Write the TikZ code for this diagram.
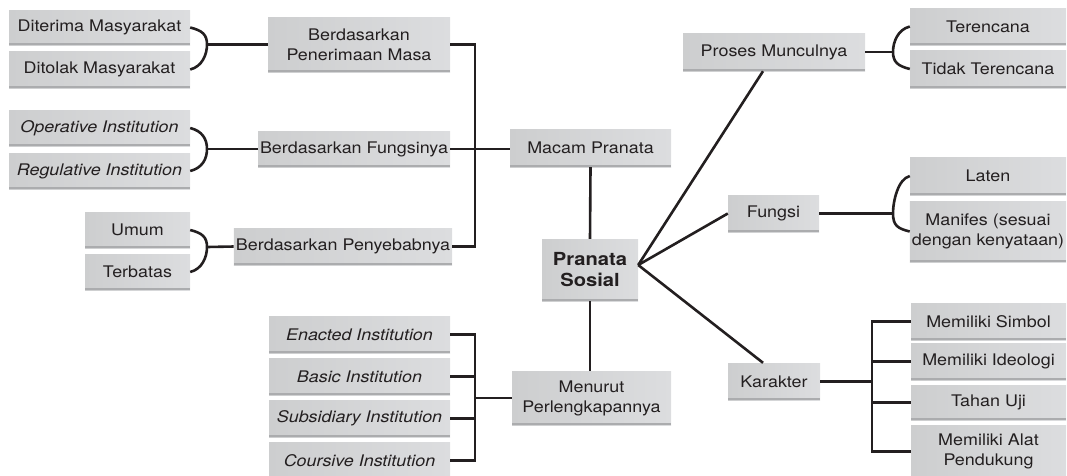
\documentclass[tikz,border=0pt]{standalone}
\usepackage{fontspec}
\setmainfont{TeX Gyre Heros}[FakeStretch=1.12]
\usetikzlibrary{calc}
\definecolor{boxgray}{HTML}{CDCECF}
\definecolor{lightedge}{HTML}{DCDDDF}
\definecolor{shadowgray}{HTML}{ABACAE}
\definecolor{ink}{HTML}{231F20}
\begin{document}
\begin{tikzpicture}[x=1pt,y=-1pt,
  box/.style={left color=boxgray, right color=lightedge, inner sep=2pt, align=center,
    text=ink, font=\fontsize{16}{20}\selectfont,
    path picture={\fill[shadowgray] ($(path picture bounding box.south west)+(0,-2.2)$) rectangle (path picture bounding box.south east);}},
  conn/.style={draw=ink, line width=2.6pt},
  it/.style={font=\fontsize{16}{20}\selectfont\itshape}]
\useasboundingbox (0,0) rectangle (1067,475);

% left column
\node[box, minimum width=181pt, minimum height=35pt] (dit) at (99.5,27.5) {Diterima Masyarakat};
\node[box, minimum width=181pt, minimum height=37pt] (dol) at (99.5,69.5) {Ditolak Masyarakat};
\node[box, minimum width=182pt, minimum height=55pt] (bpm) at (359,44.5) {Berdasarkan\\Penerimaan Masa};
\node[box, it, minimum width=181pt, minimum height=36pt] (ope) at (99.5,128) {Operative Institution};
\node[box, it, minimum width=181pt, minimum height=36pt] (reg) at (99.5,171) {Regulative Institution};
\node[box, minimum width=192pt, minimum height=36pt] (bfu) at (354,149) {Berdasarkan Fungsinya};
\node[box, minimum width=105pt, minimum height=36pt] (umu) at (137.5,230) {Umum};
\node[box, minimum width=105pt, minimum height=36pt] (ter) at (137.5,272) {Terbatas};
\node[box, minimum width=214pt, minimum height=37pt] (bpe) at (343,246.5) {Berdasarkan Penyebabnya};

% centre
\node[box, minimum width=161pt, minimum height=38pt] (mac) at (590.5,148) {Macam Pranata};
\node[box, minimum width=96pt, minimum height=62pt, font=\fontsize{18}{21}\selectfont\bfseries] (ps) at (590,270) {Pranata\\Sosial};
\node[box, minimum width=159pt, minimum height=54pt] (men) at (591.5,398) {Menurut\\Perlengkapannya};

% bottom-left institutions
\node[box, it, minimum width=181pt, minimum height=37pt] (ena) at (359.5,334.5) {Enacted Institution};
\node[box, it, minimum width=181pt, minimum height=37pt] (bas) at (359.5,376.5) {Basic Institution};
\node[box, it, minimum width=181pt, minimum height=37pt] (sub) at (359.5,418.5) {Subsidiary Institution};
\node[box, it, minimum width=181pt, minimum height=37pt] (cou) at (359.5,460.5) {Coursive Institution};

% right side
\node[box, minimum width=182pt, minimum height=38pt] (pro) at (774,52) {Proses Munculnya};
\node[box, minimum width=156pt, minimum height=37pt] (tcn) at (988,26.5) {Terencana};
\node[box, minimum width=156pt, minimum height=38pt] (ttc) at (988,69) {Tidak Terencana};
\node[box, minimum width=91pt, minimum height=37pt] (fun) at (773.5,213.5) {Fungsi};
\node[box, minimum width=156pt, minimum height=38pt] (lat) at (988,176) {Laten};
\node[box, minimum width=156pt, minimum height=61pt] (man) at (988,231.5) {Manifes (sesuai\\dengan kenyataan)};
\node[box, minimum width=92pt, minimum height=37pt] (kar) at (774,381.5) {Karakter};
\node[box, minimum width=155pt, minimum height=37pt] (sim) at (988.5,321.5) {Memiliki Simbol};
\node[box, minimum width=155pt, minimum height=37pt] (ide) at (988.5,361.5) {Memiliki Ideologi};
\node[box, minimum width=155pt, minimum height=35pt] (tah) at (988.5,402.5) {Tahan Uji};
\node[box, minimum width=155pt, minimum height=53pt] (ala) at (988.5,451.5) {Memiliki Alat\\Pendukung};

% junction coordinates
\coordinate (m1) at (207,44.5);
\coordinate (m2) at (207,149);
\coordinate (m3) at (207,247);
\coordinate (m5) at (893,52);
\coordinate (m6) at (893,213.5);
\coordinate (jx) at (475,0);
\coordinate (jk) at (872,0);
\coordinate (psr) at ($(ps.east)+(0,-5)$);

% left brackets
\draw[conn] (dit.east) .. controls +(12,3) and +(0,-10) .. (m1) .. controls +(0,10) and +(12,-3) .. (dol.east);
\draw[conn] (m1) -- (bpm.west);
\draw[conn] (ope.east) .. controls +(12,3) and +(0,-10) .. (m2) .. controls +(0,10) and +(12,-3) .. (reg.east);
\draw[conn] (m2) -- (bfu.west);
\draw[conn] (umu.east) .. controls +(12,3) and +(0,-10) .. (m3) .. controls +(0,10) and +(12,-3) .. (ter.east);
\draw[conn] (m3) -- (bpe.west);

% left tree to Macam Pranata
\draw[conn] (bpm.east) -- (bpm.east -| jx) -- (bpe.east -| jx) -- (bpe.east);
\draw[conn] (bfu.east) -- (bfu.east -| mac.west);
\draw[conn] (mac.south) -- (ps.north);
\draw[conn] (ps.south) -- (ps.south |- men.north);

% institutions tree
\draw[conn] (ena.east) -- (ena.east -| jx) -- (cou.east -| jx) -- (cou.east);
\draw[conn] (bas.east) -- (bas.east -| jx);
\draw[conn] (sub.east) -- (sub.east -| jx);
\draw[conn] (men.west -| jx) -- (men.west);

% right spokes
\draw[conn] (psr) -- ($(pro.south)+(-11,0)$);
\draw[conn] (psr) -- (fun.west);
\draw[conn] (psr) -- ($(kar.north)+(-11,0)$);

% right brackets
\draw[conn] (pro.east) -- (m5);
\draw[conn] (tcn.west) .. controls +(-12,3) and +(0,-10) .. (m5) .. controls +(0,10) and +(-12,-3) .. (ttc.west);
\draw[conn] (fun.east) -- (m6);
\draw[conn] (lat.west) .. controls +(-12,3) and +(0,-12) .. (m6) .. controls +(0,12) and +(-12,-3) .. (man.west);

% karakter tree
\draw[conn] (kar.east) -- (kar.east -| jk);
\draw[conn] (sim.west) -- (sim.west -| jk) -- (ala.west -| jk) -- (ala.west);
\draw[conn] (ide.west) -- (ide.west -| jk);
\draw[conn] (tah.west) -- (tah.west -| jk);
\end{tikzpicture}
\end{document}
